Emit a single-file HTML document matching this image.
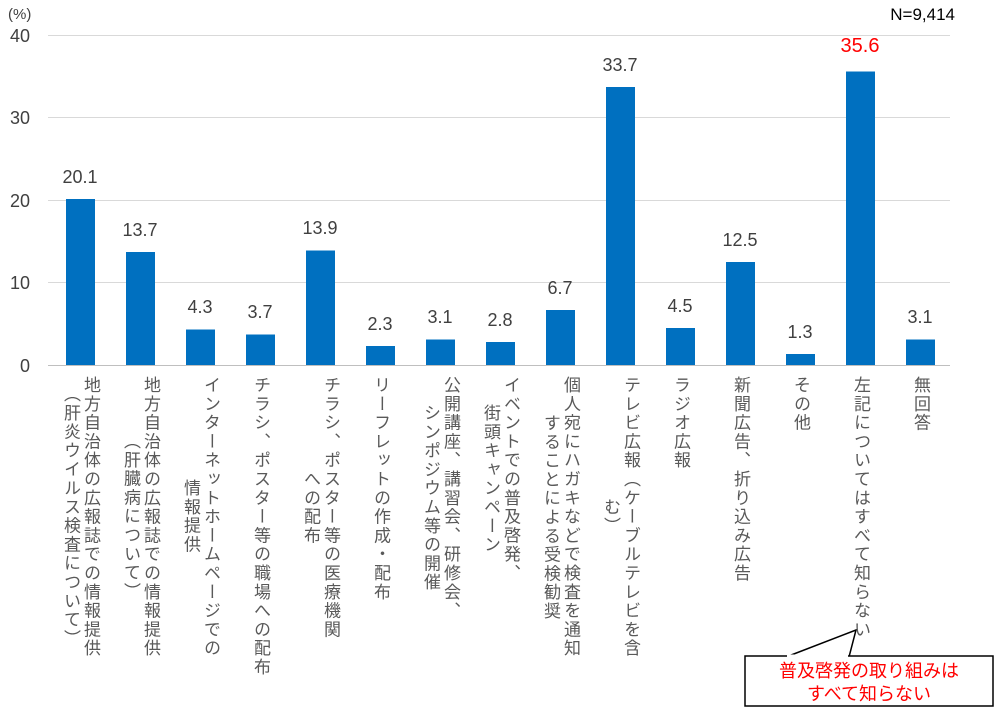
<!DOCTYPE html>
<html><head><meta charset="utf-8"><style>
body{margin:0;width:1000px;height:710px;background:#fff;position:relative;overflow:hidden;font-family:"Liberation Sans","Noto Sans CJK JP",sans-serif;}
.lb{position:absolute;top:376px;writing-mode:vertical-rl;text-align:center;font-size:17px;letter-spacing:1.8px;line-height:20px;color:#595959;transform:translateX(-50%);white-space:nowrap;}
.v{position:absolute;font-size:18px;color:#404040;transform:translateX(-50%);}
</style></head><body>
<svg width="1000" height="710" style="position:absolute;left:0;top:0">
<g stroke="#d9d9d9" stroke-width="1">
<line x1="48" x2="950" y1="35.5" y2="35.5"/><line x1="48" x2="950" y1="117.5" y2="117.5"/><line x1="48" x2="950" y1="200.5" y2="200.5"/><line x1="48" x2="950" y1="282.5" y2="282.5"/>
</g>
<line x1="48" x2="950" y1="365.5" y2="365.5" stroke="#bfbfbf"/>
<g fill="#0070c0">
<rect x="66" y="199" width="29" height="166"/>
<rect x="126" y="252" width="29" height="113"/>
<rect x="186" y="329.5" width="29" height="35.5"/>
<rect x="246" y="334.5" width="29" height="30.5"/>
<rect x="306" y="250.5" width="29" height="114.5"/>
<rect x="366" y="346" width="29" height="19"/>
<rect x="426" y="339.5" width="29" height="25.5"/>
<rect x="486" y="342" width="29" height="23"/>
<rect x="546" y="310" width="29" height="55"/>
<rect x="606" y="87" width="29" height="278"/>
<rect x="666" y="328" width="29" height="37"/>
<rect x="726" y="262" width="29" height="103"/>
<rect x="786" y="354" width="29" height="11"/>
<rect x="846" y="71.5" width="29" height="293.5"/>
<rect x="906" y="339.5" width="29" height="25.5"/>
</g>
<g font-size="18" fill="#404040" text-anchor="end" font-family="Liberation Sans, sans-serif">
<text x="30" y="42">40</text><text x="30" y="124">30</text><text x="30" y="207">20</text><text x="30" y="289">10</text><text x="30" y="372">0</text>
</g>
<text x="8" y="19" font-size="15" fill="#404040" font-family="Liberation Sans, sans-serif">(%)</text>
<text x="955" y="20" font-size="17" fill="#000" text-anchor="end" font-family="Liberation Sans, sans-serif">N=9,414</text>
<polygon points="786,657 856,630 849,657" fill="#fff" stroke="#000" stroke-width="1.5"/>
<rect x="745" y="656" width="248" height="50" fill="#fff" stroke="#000" stroke-width="1.5"/>
<line x1="787" x2="848" y1="656" y2="656" stroke="#fff" stroke-width="3"/>
<g fill="#ff0000" font-size="18" text-anchor="middle" font-family="Liberation Sans, Noto Sans CJK JP, sans-serif">
<text x="869" y="677">普及啓発の取り組みは</text><text x="869" y="700">すべて知らない</text>
</g>
</svg>
<div class="v" style="left:80px;top:167px">20.1</div>
<div class="v" style="left:140px;top:220px">13.7</div>
<div class="v" style="left:200px;top:297px">4.3</div>
<div class="v" style="left:260px;top:302px">3.7</div>
<div class="v" style="left:320px;top:218px">13.9</div>
<div class="v" style="left:380px;top:314px">2.3</div>
<div class="v" style="left:440px;top:307px">3.1</div>
<div class="v" style="left:500px;top:310px">2.8</div>
<div class="v" style="left:560px;top:278px">6.7</div>
<div class="v" style="left:620px;top:55px">33.7</div>
<div class="v" style="left:680px;top:296px">4.5</div>
<div class="v" style="left:740px;top:230px">12.5</div>
<div class="v" style="left:800px;top:322px">1.3</div>
<div class="v" style="left:860px;top:35px;color:#ff0000;font-size:20px">35.6</div>
<div class="v" style="left:920px;top:307px">3.1</div>

<div class="lb" style="left:80px">地方自治体の広報誌での情報提供<br>（肝炎ウイルス検査について）</div>
<div class="lb" style="left:140px">地方自治体の広報誌での情報提供<br>（肝臓病について）</div>
<div class="lb" style="left:200px">インターネットホームページでの<br>情報提供</div>
<div class="lb" style="left:260px">チラシ、ポスター等の職場への配布</div>
<div class="lb" style="left:320px">チラシ、ポスター等の医療機関<br>への配布</div>
<div class="lb" style="left:380px">リーフレットの作成・配布</div>
<div class="lb" style="left:440px">公開講座、講習会、研修会、<br>シンポジウム等の開催</div>
<div class="lb" style="left:500px">イベントでの普及啓発、<br>街頭キャンペーン</div>
<div class="lb" style="left:560px">個人宛にハガキなどで検査を通知<br>することによる受検勧奨</div>
<div class="lb" style="left:620px">テレビ広報（ケーブルテレビを含<br>む）</div>
<div class="lb" style="left:680px">ラジオ広報</div>
<div class="lb" style="left:740px">新聞広告、折り込み広告</div>
<div class="lb" style="left:800px">その他</div>
<div class="lb" style="left:860px">左記についてはすべて知らない</div>
<div class="lb" style="left:920px">無回答</div>
</body></html>
